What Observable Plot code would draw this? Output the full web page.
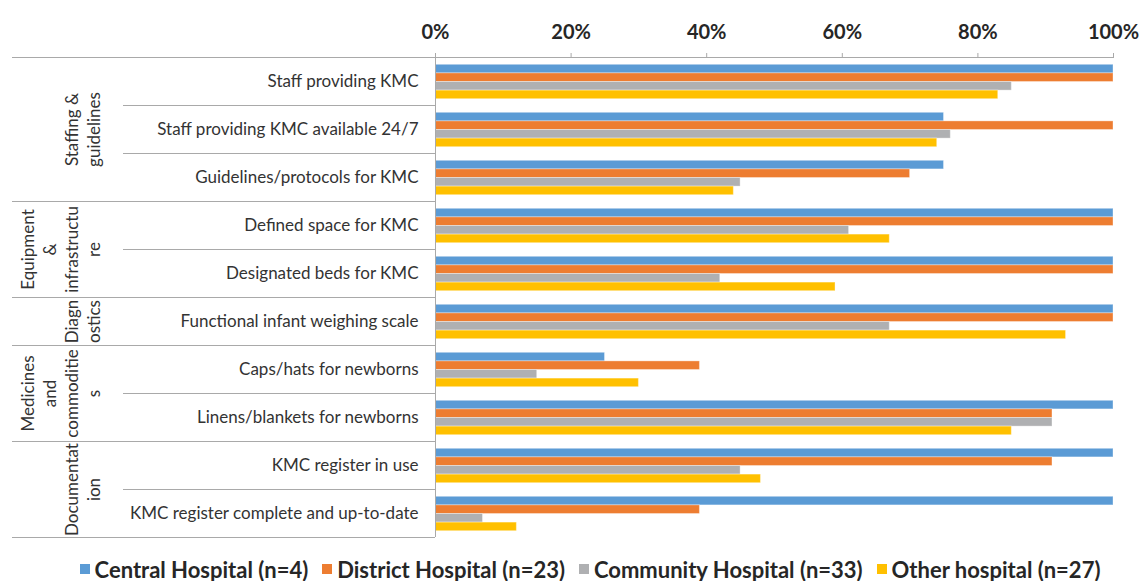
<!DOCTYPE html>
<html>
<head>
<meta charset="utf-8">
<script src="https://cdn.jsdelivr.net/npm/d3@7"></script>
<script src="https://cdn.jsdelivr.net/npm/@observablehq/plot@0.6"></script>
<style>
  html, body { margin: 0; padding: 0; background: #fff; }
  #chart { width: 1141px; }
  .legend { display: flex; justify-content: center; align-items: center; padding-left: 39px; height: 24px; margin-top: -3px;
    font-family: Lato, sans-serif; font-weight: bold; font-size: 22px; color: #262626; white-space: nowrap; }
  .legend .item { display: flex; align-items: center; margin-right: 14px; }
  .legend .item:last-child { margin-right: 0; }
  .legend .sw { width: 10px; height: 10px; margin-right: 5px; }
</style>
</head>
<body>
<div id="chart"></div>
<script>
const categories = [
  "Staff providing KMC",
  "Staff providing KMC available 24/7",
  "Guidelines/protocols for KMC",
  "Defined space for KMC",
  "Designated beds for KMC",
  "Functional infant weighing scale",
  "Caps/hats for newborns",
  "Linens/blankets for newborns",
  "KMC register in use",
  "KMC register complete and up-to-date"
];
const seriesNames = ["Central Hospital (n=4)", "District Hospital (n=23)", "Community Hospital (n=33)", "Other hospital (n=27)"];
const central   = [100, 75, 75, 100, 100, 100, 25, 100, 100, 100];
const district  = [100, 100, 70, 100, 100, 100, 39, 91, 91, 39];
const community = [85, 76, 45, 61, 42, 67, 15, 91, 45, 7];
const other     = [83, 74, 44, 67, 59, 93, 30, 85, 48, 12];
const colors = ["#5B9BD5", "#ED7D31", "#AFB0B2", "#FFC000"];
const tickValues = [0, 20, 40, 60, 80, 100];
const groupLabels = ["Staffing &\nguidelines", "Equipment\n&\ninfrastructu\nre", "Diagn\nostics", "Medicines\nand\ncommoditie\ns", "Documentat\nion"];
const groupSizes = [3, 2, 1, 2, 2];

const seriesValues = [central, district, community, other];
const W = 1141, H = 560, mTop = 57, mBottom = 23, mLeft = 435, mRight = 28;
const rowH = (H - mTop - mBottom) / categories.length; // 48
const padTop = 7.3, barH = 8.6;
const lineColor = "#A9A9A9";
const fontSize = 17;

// group boundaries
const groupStarts = [];
let acc = 0;
groupSizes.forEach(s => { groupStarts.push(acc); acc += s; });
const startCats = groupStarts.map(i => categories[i]);
const innerCats = categories.filter(c => !startCats.includes(c));

const marks = [];
seriesValues.forEach((vals, i) => {
  const rows = categories.map((c, j) => ({category: c, value: vals[j], series: seriesNames[i]}));
  marks.push(Plot.barX(rows, {
    x: "value", y: "category", fill: colors[i],
    stroke: "#ffffff", strokeOpacity: 0.35, strokeWidth: 1,
    insetTop: padTop + barH * i,
    insetBottom: rowH - padTop - barH * (i + 1)
  }));
});

// separators in the label area
marks.push(Plot.ruleY(innerCats, {y: d => d, dy: -rowH / 2, x1: 0, x2: 0, insetLeft: -(mLeft - 123), stroke: lineColor}));
marks.push(Plot.ruleY(startCats, {y: d => d, dy: -rowH / 2, x1: 0, x2: 0, insetLeft: -(mLeft - 12), stroke: lineColor}));
marks.push(Plot.ruleY([categories[categories.length - 1]], {y: d => d, dy: rowH / 2, x1: 0, x2: 0, insetLeft: -(mLeft - 12), stroke: lineColor}));

// group labels
groupLabels.forEach((g, k) => {
  const size = groupSizes[k];
  const mid = categories[groupStarts[k] + Math.floor(size / 2)];
  marks.push(Plot.text([g], {
    y: () => mid, text: d => d, frameAnchor: "left", dx: 99 - mLeft,
    dy: size % 2 === 0 ? -rowH / 2 : 0,
    rotate: -90, textAnchor: "middle", lineAnchor: "bottom",
    lineHeight: 21.8 / fontSize, fontSize: fontSize, fill: "#333"
  }));
});

// axes
marks.push(Plot.ruleX([0], {stroke: lineColor}));
marks.push(Plot.frame({anchor: "top", stroke: lineColor}));
marks.push(Plot.axisX({anchor: "top", ticks: tickValues, tickFormat: d => d + "%", tickSize: 5, tickPadding: 14,
  fontSize: 20, fontWeight: "bold", fill: "#262626", stroke: lineColor, label: null}));
marks.push(Plot.axisY({tickSize: 0, tickPadding: 17, fontSize: fontSize, fill: "#333", label: null}));

const plot = Plot.plot({
  width: W, height: H,
  marginTop: mTop, marginBottom: mBottom, marginLeft: mLeft, marginRight: mRight,
  style: {fontFamily: "Lato, sans-serif", background: "#fff", overflow: "visible"},
  x: {domain: [0, 100], axis: null},
  y: {domain: categories, padding: 0, axis: null},
  marks
});
document.getElementById("chart").appendChild(plot);

const legend = document.createElement("div");
legend.className = "legend";
seriesNames.forEach((n, i) => {
  const it = document.createElement("div");
  it.className = "item";
  const sw = document.createElement("div");
  sw.className = "sw";
  sw.style.background = colors[i];
  const t = document.createElement("span");
  t.textContent = n;
  it.appendChild(sw); it.appendChild(t);
  legend.appendChild(it);
});
document.getElementById("chart").appendChild(legend);
</script>
</body>
</html>
